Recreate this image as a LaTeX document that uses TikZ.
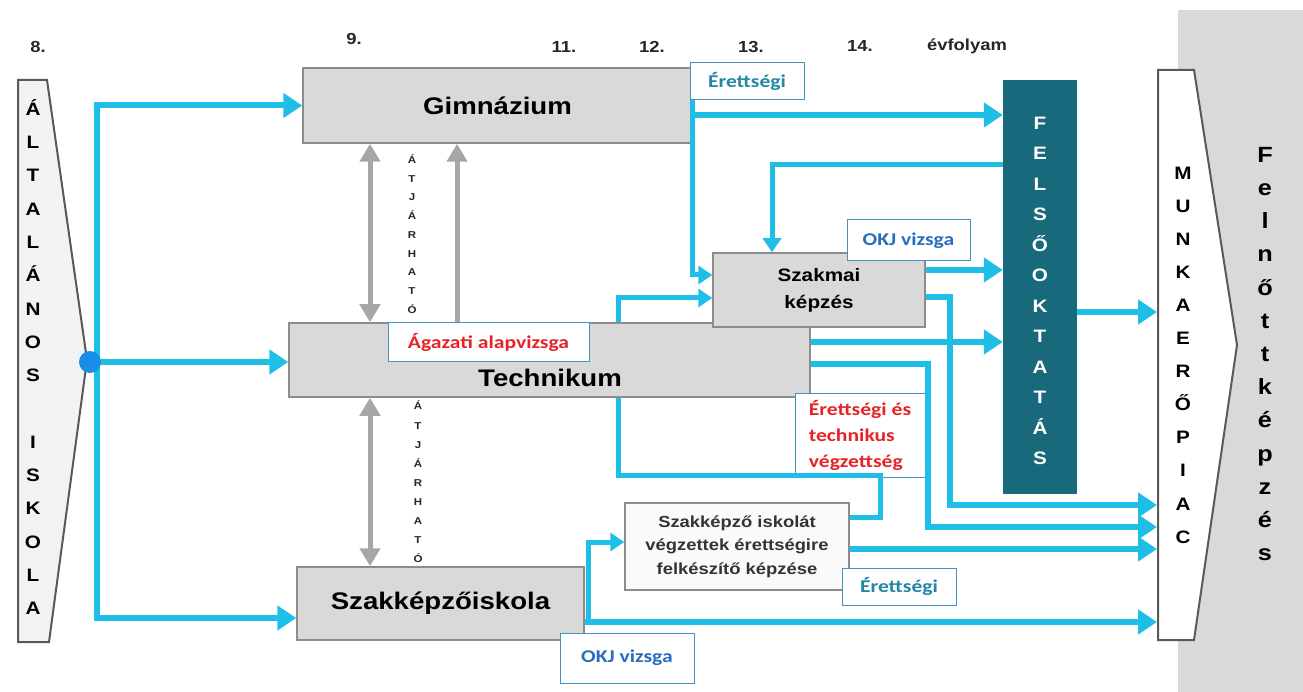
\documentclass[tikz,border=0pt]{standalone}
\usepackage{fontspec}
\setmainfont{Liberation Sans}[FakeStretch=1.15]
\newfontfamily\calibri{Carlito}[FakeStretch=1.2]
\usetikzlibrary{arrows.meta}
\definecolor{flowblue}{RGB}{30,190,230}
\definecolor{dotblue}{RGB}{25,140,230}
\definecolor{boxgray}{RGB}{217,217,217}
\definecolor{edgegray}{RGB}{140,140,140}
\definecolor{passgray}{RGB}{166,166,166}
\definecolor{tealdark}{RGB}{25,105,125}
\definecolor{erettcol}{RGB}{35,135,165}
\definecolor{okjcol}{RGB}{40,110,190}
\definecolor{labelred}{RGB}{230,35,40}
\definecolor{labeledge}{RGB}{70,145,195}
\tikzstyle{school}=[draw=edgegray,line width=1.5pt,fill=boxgray,inner sep=0pt,font=\fontsize{24}{28}\selectfont\bfseries]
\tikzstyle{tag}=[draw=labeledge,line width=1pt,fill=white,inner sep=0pt,font=\calibri\bfseries\fontsize{18}{26}\selectfont]
\tikzstyle{flow}=[draw=flowblue,line width=6pt,-{Triangle[length=19pt,width=24pt]}]
\tikzstyle{thinflow}=[draw=flowblue,line width=5pt,-{Triangle[length=14pt,width=18pt]}]
\tikzstyle{link}=[draw=flowblue,line width=5pt]
\tikzstyle{pass}=[draw=passgray,line width=5pt,-{Triangle[length=18pt,width=20pt]}]
\tikzstyle{passboth}=[draw=passgray,line width=5pt,{Triangle[length=18pt,width=20pt]}-{Triangle[length=18pt,width=20pt]}]
\tikzstyle{letters}=[align=center,inner sep=0pt,font=\bfseries]
\tikzstyle{grade}=[inner sep=0pt,font=\fontsize{16}{18}\selectfont\bfseries,text=black!85]
\begin{document}
\begin{tikzpicture}[x=1pt,y=-1pt]
  \useasboundingbox (0,0) rectangle (1303,692);
  \fill[boxgray] (1178,10) rectangle (1303,692);
  % side shapes
  \filldraw[fill=black!5,draw=black!65,line width=2pt] (18,80) -- (47,80) -- (87,360) -- (49,642) -- (18,642) -- cycle;
  \filldraw[fill=white,draw=black!65,line width=2pt] (1158,70) -- (1194,70) -- (1237,345) -- (1194,640) -- (1158,640) -- cycle;
  \coordinate (munka) at (1157,355);
  \coordinate (fork) at (97,362);

  % grades
  \node[grade] (g8) at (38,47) {8.};
  \node[grade] (g9) at (354,39) {9.};
  \node[grade] (g11) at (564,47) {11.};
  \node[grade] (g12) at (652,47) {12.};
  \node[grade] (g13) at (751,47) {13.};
  \node[grade] (g14) at (860,46) {14.};
  \node[grade] (evf) at (967,46) {évfolyam};

  % schools
  \node[school,minimum width=389pt,minimum height=75pt] (gimn) at (497.5,105.5) {Gimnázium};
  \node[school,minimum width=521pt,minimum height=74pt] (tech) at (549.5,360) {};
  \node[school,draw=none,fill=none] (techtxt) at (550,378) {Technikum};
  \node[school,font=\fontsize{18}{27}\selectfont\bfseries,align=center,minimum width=212pt,minimum height=74pt] (szakmai) at (819,290) {Szakmai\\képzés};
  \node[school,minimum width=287pt,minimum height=73pt] (szisk) at (440.5,603.5) {Szakképzőiskola};
  \node[school,fill=black!2,align=center,minimum width=224pt,minimum height=87pt,font=\fontsize{16}{23.5}\selectfont\bfseries,text=black!80] (felz) at (737,546.5) {Szakképző iskolát\\végzettek érettségire\\felkészítő képzése};
  \node[fill=tealdark,inner sep=0pt,minimum width=74pt,minimum height=414pt] (felso) at (1040,287) {};

  % tags
  \node[tag,text=erettcol,minimum width=114pt,minimum height=37pt] (erett1) at (747,81.5) {Érettségi};
  \node[tag,text=okjcol,minimum width=123pt,minimum height=41pt] (okj1) at (908.5,240.5) {OKJ vizsga};
  \node[tag,text=labelred,minimum width=201pt,minimum height=38pt] (agazat) at (488.5,342) {Ágazati alapvizsga};
  \node[tag,text=labelred,align=left,minimum width=130pt,minimum height=84pt] (etv) at (860,435) {Érettségi és\\technikus\\végzettség};
  \node[tag,text=erettcol,minimum width=114pt,minimum height=37pt] (erett2) at (899,586.5) {Érettségi};
  \node[tag,text=okjcol,minimum width=134pt,minimum height=50pt] (okj2) at (627,658) {OKJ vizsga};

  % atjarhato
  \draw[passboth] (gimn.south -| 370,0) -- (tech.north -| 370,0);
  \draw[pass] (tech.north -| 457,0) -- (gimn.south -| 457,0);
  \draw[passboth] (tech.south -| 370,0) -- (szisk.north -| 370,0);
  \node[letters,text=black!85,font=\fontsize{10}{18.75}\selectfont\bfseries] (atjar1) at (412,234) {Á\\T\\J\\Á\\R\\H\\A\\T\\Ó};
  \node[letters,text=black!85,font=\fontsize{10}{19.1}\selectfont\bfseries] (atjar2) at (418,482) {Á\\T\\J\\Á\\R\\H\\A\\T\\Ó};

  % flows
  \draw[flow] (fork) |- (gimn.west);
  \draw[flow] (fork) -- (tech.west |- fork);
  \draw[flow] (fork) |- (szisk.west |- 0,618);
  \draw[flow] (gimn.east |- 0,115) -- (felso.west |- 0,115);
  \draw[thinflow] (gimn.east |- erett1.south) |- (szakmai.west |- 0,275);
  \draw[thinflow] (felso.west |- 0,165) -| (szakmai.north -| 772,0);
  \draw[flow] (szakmai.east |- 0,270) -- (felso.west |- 0,270);
  \draw[flow] (szakmai.east |- 0,297) -- (950,297) |- (munka |- 0,505);
  \draw[flow] (tech.east |- 0,342) -- (felso.west |- 0,342);
  \draw[flow] (tech.east |- 0,364) -- (928,364) |- (munka |- 0,527);
  \draw[thinflow] (tech.north -| 618,0) |- (szakmai.west |- 0,298);
  \draw[link] (tech.south -| 618,0) |- (880,475) |- (felz.east |- 0,517);
  \draw[flow] (felso.east |- 0,312) -- (munka |- 0,312);
  \coordinate (split) at (588,622);
  \draw[flow] (szisk.east |- split) -- (munka |- split);
  \draw[thinflow] (split) |- (felz.west |- 0,542);
  \draw[flow] (felz.east |- 0,549) -- (munka |- 0,549);
  \node[circle,fill=dotblue,minimum size=22pt,inner sep=0pt] (dot) at (90,362) {};

  % stacked words
  \node[letters,font=\fontsize{18}{33.3}\selectfont\bfseries] (altisk) at (33,357) {Á\\L\\T\\A\\L\\Á\\N\\O\\S\\\mbox{}\\I\\S\\K\\O\\L\\A};
  \node[letters,text=white,font=\fontsize{18}{30.5}\selectfont\bfseries] (felsotxt) at (1040,291) {F\\E\\L\\S\\Ő\\O\\K\\T\\A\\T\\Á\\S};
  \node[letters,font=\fontsize{18}{33.1}\selectfont\bfseries] (munkatxt) at (1183,355) {M\\U\\N\\K\\A\\E\\R\\Ő\\P\\I\\A\\C};
  \node[letters,font=\fontsize{22}{33.2}\selectfont\bfseries] (felnott) at (1265,354) {F\\e\\l\\n\\ő\\t\\t\\k\\é\\p\\z\\é\\s};
\end{tikzpicture}
\end{document}
